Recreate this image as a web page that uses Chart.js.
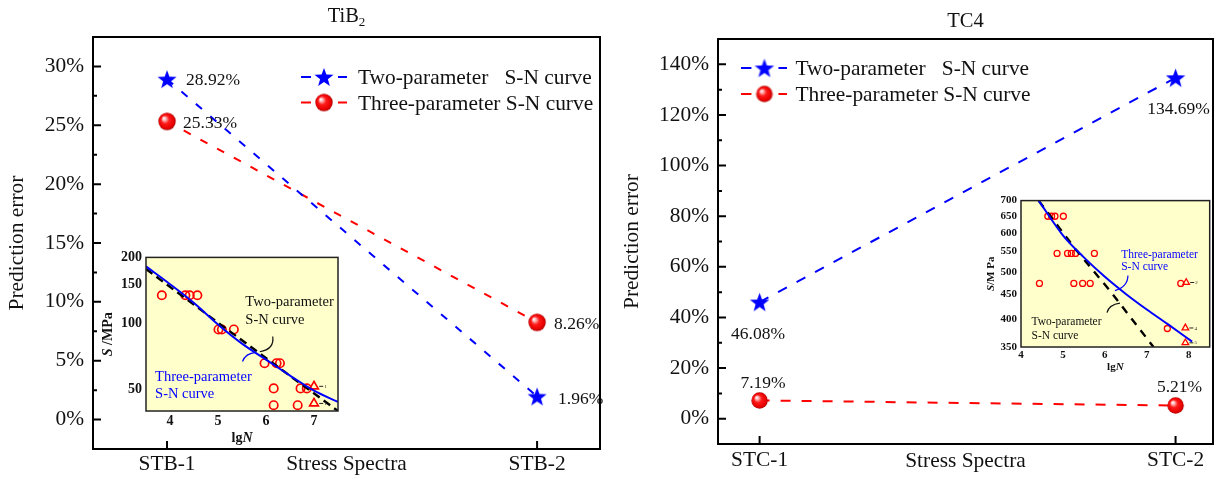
<!DOCTYPE html>
<html>
<head>
<meta charset="utf-8">
<script src="https://cdn.jsdelivr.net/npm/chart.js@4.4.0/dist/chart.umd.min.js"></script>
<style>
  html, body { margin: 0; padding: 0; background: #fff; }
  #wrap { position: relative; width: 1224px; height: 482px; overflow: hidden; background: #fff; }
  #wrap canvas { position: absolute; }
</style>
</head>
<body>
<div id="wrap">
  <canvas id="mainL" width="612" height="482" style="left:0;top:0"></canvas>
  <canvas id="mainR" width="612" height="482" style="left:612px;top:0"></canvas>
  <canvas id="insetL" width="250" height="200" style="left:95px;top:245px"></canvas>
  <canvas id="insetR" width="240" height="185" style="left:975px;top:190px"></canvas>
</div>
<script>
// ---- prediction error per stress spectrum (%) ----
const tibSpectra = ['STB-1', 'STB-2'];
const tibTwoParam = [28.92, 1.96];
const tibThreeParam = [25.33, 8.26];
const tibErrorTicks = [0, 5, 10, 15, 20, 25, 30];

const tc4Spectra = ['STC-1', 'STC-2'];
const tc4TwoParam = [46.08, 134.69];
const tc4ThreeParam = [7.19, 5.21];
const tc4ErrorTicks = [0, 20, 40, 60, 80, 100, 120, 140];

// ---- TiB2 S-N test data and fitted curves ----
const tibFailLgN = [3.83, 4.32, 4.41, 4.57, 5.01, 5.08, 5.33, 5.97, 6.22, 6.29, 6.16, 6.72, 6.85, 6.16, 6.66];
const tibFailS   = [134.5, 134.5, 134.5, 134.5, 94, 94, 94, 66, 66, 66, 50.7, 50.7, 50.7, 42.5, 42.5];
const tibRunoutLgN = [7.0, 7.0];
const tibRunoutS   = [51.8, 43.3];
const tibRunoutCount = ['1', '1'];
const tibTwoCurveLgN = [3.5, 5.0, 6.4, 7.5];
const tibTwoCurveS   = [177, 101, 60, 40];
const tibThreeCurveLgN = [3.5, 4.0, 4.5, 5.0, 5.5, 6.0, 6.5, 7.0, 7.5];
const tibThreeCurveS   = [182, 151, 124, 99, 81, 68.5, 58, 49.5, 44];
const tibLgNTicks = [4, 5, 6, 7];
const tibSTicks = [50, 100, 150, 200];

// ---- TC4 S-N test data and fitted curves ----
const tc4FailLgN = [4.64, 4.73, 4.81, 5.01, 4.86, 5.11, 5.20, 5.30, 5.75, 4.44, 5.26, 5.47, 5.65, 7.81, 7.49];
const tc4FailS   = [650, 650, 650, 650, 545, 545, 545, 545, 545, 473, 473, 473, 473, 473, 382];
const tc4RunoutLgN = [7.94, 7.92, 7.92];
const tc4RunoutS   = [475, 383, 357];
const tc4RunoutCount = ['2', '4', '5'];
const tc4TwoCurveLgN = [4.42, 5.3, 6.12, 7.16];
const tc4TwoCurveS   = [700, 556, 457, 350];
const tc4ThreeCurveLgN = [4.42, 5.0, 5.5, 6.0, 6.5, 7.0, 7.5, 8.08];
const tc4ThreeCurveS   = [700, 594, 535, 488, 450, 418, 390, 359];
const tc4LgNTicks = [4, 5, 6, 7, 8];
const tc4STicks = [350, 400, 450, 500, 550, 600, 650, 700];

const SERIF = "'Liberation Serif', 'Times New Roman', Times, serif";
const BLUE = '#0000ff';
const RED = '#ff0000';

function pairs(xs, ys) { return xs.map((x, i) => ({ x: x, y: ys[i] })); }

// filled five-pointed star marker
function makeStar(color, R, r) {
  const size = Math.ceil(R * 2) + 2;
  const c = document.createElement('canvas');
  c.width = c.height = size;
  const g = c.getContext('2d');
  g.translate(size / 2, size / 2 + R * 0.09);
  g.beginPath();
  for (let i = 0; i < 10; i++) {
    const rad = i % 2 ? r : R;
    const a = -Math.PI / 2 + i * Math.PI / 5;
    g.lineTo(rad * Math.cos(a), rad * Math.sin(a));
  }
  g.closePath();
  g.fillStyle = color;
  g.fill();
  return c;
}

// shaded red ball marker
function makeSphere(R) {
  const size = Math.ceil(R * 2) + 2;
  const c = document.createElement('canvas');
  c.width = c.height = size;
  const g = c.getContext('2d');
  const cx = size / 2, cy = size / 2;
  const grad = g.createRadialGradient(cx - R * 0.38, cy - R * 0.38, R * 0.04, cx, cy, R);
  grad.addColorStop(0, '#ffffff');
  grad.addColorStop(0.18, '#ffb0b0');
  grad.addColorStop(0.45, '#ff1a1a');
  grad.addColorStop(0.85, '#e80000');
  grad.addColorStop(1, '#a80000');
  g.beginPath();
  g.arc(cx, cy, R, 0, Math.PI * 2);
  g.fillStyle = grad;
  g.fill();
  return c;
}

// legend key: dash - marker - dash
function makeKey(color, marker) {
  const w = 46, h = 22;
  const c = document.createElement('canvas');
  c.width = w; c.height = h;
  const g = c.getContext('2d');
  g.strokeStyle = color;
  g.lineWidth = 2;
  g.beginPath();
  g.moveTo(0, h / 2); g.lineTo(10, h / 2);
  g.moveTo(37, h / 2); g.lineTo(46, h / 2);
  g.stroke();
  g.drawImage(marker, 23 - marker.width / 2, h / 2 - marker.height / 2);
  return c;
}

const starL = makeStar(BLUE, 10, 4.1);
const ballL = makeSphere(8.7);
const starR = makeStar(BLUE, 10.2, 4.2);
const ballR = makeSphere(8.2);

// ---------- plugins ----------
const framePlugin = {
  id: 'frame',
  afterDraw(chart, args, o) {
    const { ctx, chartArea: a, scales } = chart;
    ctx.save();
    ctx.strokeStyle = '#000';
    ctx.lineWidth = o.lineWidth;
    ctx.strokeRect(a.left, a.top, a.right - a.left, a.bottom - a.top);
    ctx.beginPath();
    const ys = scales.y;
    ys.ticks.forEach(t => {
      const y = ys.getPixelForValue(t.value);
      ctx.moveTo(a.left, y); ctx.lineTo(a.left + o.majorLen, y);
    });
    const majors = ys.ticks.map(t => t.value);
    for (let v = ys.min; v <= ys.max + 1e-9; v += o.minorStep) {
      if (majors.some(m => Math.abs(m - v) < 1e-6)) continue;
      const y = ys.getPixelForValue(v);
      if (y <= a.top + 1 || y >= a.bottom - 1) continue;
      ctx.moveTo(a.left, y); ctx.lineTo(a.left + o.minorLen, y);
    }
    const xs = scales.x;
    xs.ticks.forEach(t => {
      const x = xs.getPixelForValue(t.value);
      ctx.moveTo(x, a.bottom); ctx.lineTo(x, a.bottom - o.majorLen);
    });
    ctx.stroke();
    ctx.restore();
  }
};

const headingPlugin = {
  id: 'heading',
  afterDraw(chart, args, o) {
    const { ctx, chartArea: a } = chart;
    ctx.save();
    ctx.fillStyle = '#111';
    ctx.textBaseline = 'alphabetic';
    ctx.textAlign = 'left';
    let total = 0;
    const parts = o.parts.map(p => {
      ctx.font = p.size + 'px ' + SERIF;
      const w = ctx.measureText(p.text).width;
      total += w;
      return Object.assign({ w: w }, p);
    });
    let x = (a.left + a.right) / 2 - total / 2;
    parts.forEach(p => {
      ctx.font = p.size + 'px ' + SERIF;
      ctx.fillText(p.text, x, o.baseline + (p.dy || 0));
      x += p.w;
    });
    ctx.restore();
  }
};

const keyPlugin = {
  id: 'seriesKey',
  afterDraw(chart, args, o) {
    const { ctx, chartArea: a } = chart;
    ctx.save();
    ctx.font = o.size + 'px ' + SERIF;
    ctx.fillStyle = '#111';
    ctx.textAlign = 'left';
    ctx.textBaseline = 'alphabetic';
    chart.data.datasets.forEach((ds, i) => {
      const cy = a.top + o.top + i * o.rowGap;
      const x0 = a.left + o.left;
      const icon = ds.keyIcon;
      ctx.drawImage(icon, x0, cy - icon.height / 2);
      ctx.fillText(ds.label, x0 + o.textGap, cy + o.size * 0.33);
    });
    ctx.restore();
  }
};

const valuePlugin = {
  id: 'valueLabels',
  afterDatasetsDraw(chart, args, o) {
    const ctx = chart.ctx;
    ctx.save();
    ctx.font = o.size + 'px ' + SERIF;
    ctx.fillStyle = '#111';
    ctx.textBaseline = 'alphabetic';
    chart.data.datasets.forEach((ds, di) => {
      const meta = chart.getDatasetMeta(di);
      meta.data.forEach((pt, pi) => {
        const off = o.offsets[di][pi];
        ctx.textAlign = off.align;
        ctx.fillText(ds.data[pi].y.toFixed(2) + '%', pt.x + off.dx, pt.y + off.dy + o.size * 0.33);
      });
    });
    ctx.restore();
  }
};

function drawRich(ctx, parts, x, y, size) {
  let total = 0;
  parts.forEach(p => { ctx.font = p.style + ' ' + size + 'px ' + SERIF; p.w = ctx.measureText(p.text).width; total += p.w; });
  let cx = x - total / 2;
  parts.forEach(p => { ctx.font = p.style + ' ' + size + 'px ' + SERIF; ctx.fillText(p.text, cx, y); cx += p.w; });
}

const insetPlugin = {
  id: 'insetDeco',
  beforeDatasetsDraw(chart, args, o) {
    const { ctx, chartArea: a } = chart;
    ctx.save();
    ctx.fillStyle = o.fill;
    ctx.fillRect(a.left, a.top, a.right - a.left, a.bottom - a.top);
    ctx.restore();
  },
  afterDatasetsDraw(chart, args, o) {
    const { ctx, chartArea: a, scales } = chart;
    const X = v => scales.x.getPixelForValue(v);
    const Y = v => scales.y.getPixelForValue(v);
    ctx.save();
    // box
    ctx.strokeStyle = '#222';
    ctx.lineWidth = o.frameWidth;
    ctx.strokeRect(a.left, a.top, a.right - a.left, a.bottom - a.top);
    // axis titles
    ctx.fillStyle = '#111';
    ctx.textBaseline = 'alphabetic';
    ctx.textAlign = 'left';
    const cap = o.titleSize * 0.33;
    drawRich(ctx, [{ text: 'lg', style: 'bold' }, { text: 'N', style: 'italic bold' }],
      (a.left + a.right) / 2, a.bottom + o.xTitleGap + cap, o.titleSize);
    ctx.save();
    ctx.translate(a.left - o.yTitleGap, (a.top + a.bottom) / 2);
    ctx.rotate(-Math.PI / 2);
    drawRich(ctx, [{ text: 'S', style: 'italic bold' }, { text: o.yUnit, style: 'bold' }], 0, cap, o.titleSize);
    ctx.restore();
    // curve notes
    o.notes.forEach(n => {
      ctx.fillStyle = n.color;
      ctx.font = n.size + 'px ' + SERIF;
      ctx.textAlign = 'left';
      n.lines.forEach((line, i) => {
        ctx.fillText(line, X(n.x), Y(n.y) + i * n.lineGap + n.size * 0.33);
      });
    });
    // leader arcs
    o.leaders.forEach(l => {
      ctx.strokeStyle = l.color;
      ctx.lineWidth = 1.2;
      ctx.beginPath();
      ctx.moveTo(X(l.from[0]), Y(l.from[1]));
      ctx.quadraticCurveTo(X(l.ctrl[0]), Y(l.ctrl[1]), X(l.to[0]), Y(l.to[1]));
      ctx.stroke();
    });
    // run-out arrows with counts
    const ro = chart.getDatasetMeta(o.runoutDataset);
    ctx.strokeStyle = '#222';
    ctx.fillStyle = '#222';
    ctx.lineWidth = 1;
    ctx.font = o.countSize + 'px ' + SERIF;
    ctx.textAlign = 'left';
    ro.data.forEach((pt, i) => {
      ctx.beginPath();
      ctx.moveTo(pt.x + o.arrowFrom, pt.y);
      ctx.lineTo(pt.x + o.arrowTo, pt.y);
      ctx.stroke();
      ctx.fillText(o.counts[i], pt.x + o.arrowTo + 1, pt.y + o.countSize * 0.33);
    });
    ctx.restore();
  }
};

// ---------- main charts ----------
function mainChart(id, cfg) {
  const font = { family: SERIF, size: 21.4 };
  return new Chart(document.getElementById(id), {
    type: 'line',
    data: {
      datasets: [
        {
          label: 'Two-parameter   S-N curve',
          data: cfg.two.map((v, i) => ({ x: i + 1, y: v })),
          borderColor: BLUE, borderWidth: 2, borderDash: cfg.dash,
          pointStyle: cfg.star, pointRadius: 9, fill: false,
          keyIcon: makeKey(BLUE, cfg.star)
        },
        {
          label: 'Three-parameter S-N curve',
          data: cfg.three.map((v, i) => ({ x: i + 1, y: v })),
          borderColor: RED, borderWidth: 2, borderDash: cfg.dash,
          pointStyle: cfg.ball, pointRadius: 9, fill: false,
          keyIcon: makeKey(RED, cfg.ball)
        }
      ]
    },
    options: {
      responsive: false, animation: false, devicePixelRatio: 1,
      layout: { padding: { top: cfg.top, right: cfg.right, left: 0, bottom: 0 } },
      plugins: {
        legend: { display: false }, tooltip: { enabled: false },
        frame: { lineWidth: 2, majorLen: 8, minorLen: 4, minorStep: cfg.minorStep },
        heading: cfg.heading,
        seriesKey: cfg.key,
        valueLabels: { size: 17.5, offsets: cfg.labelOffsets }
      },
      scales: {
        x: {
          type: 'linear', min: cfg.xMin, max: cfg.xMax,
          afterBuildTicks: s => { s.ticks = cfg.cats.map((c, i) => ({ value: i + 1 })); },
          ticks: { callback: v => cfg.cats[v - 1], font: font, color: '#111', padding: cfg.xTickPad, maxRotation: 0 },
          grid: { display: false, drawTicks: false }, border: { display: false },
          title: { display: true, text: 'Stress Spectra', font: font, color: '#111', padding: { top: 0, bottom: cfg.xTitlePad } },
          afterFit: s => { s.height = cfg.xHeight; }
        },
        y: {
          min: cfg.yMin, max: cfg.yMax,
          afterBuildTicks: s => { s.ticks = cfg.yTicks.map(v => ({ value: v })); },
          ticks: { callback: v => v + '%', font: font, color: '#111', padding: 9 },
          grid: { display: false, drawTicks: false }, border: { display: false },
          title: { display: true, text: 'Prediction error', font: font, color: '#111', padding: { top: cfg.yTitlePad, bottom: 0 } },
          afterFit: s => { s.width = cfg.yWidth; }
        }
      }
    },
    plugins: [framePlugin, headingPlugin, keyPlugin, valuePlugin]
  });
}

mainChart('mainL', {
  cats: tibSpectra, two: tibTwoParam, three: tibThreeParam, yTicks: tibErrorTicks,
  star: starL, ball: ballL, dash: [8, 11],
  top: 37, right: 12, yWidth: 93, xHeight: 33,
  xMin: 0.8, xMax: 2.17, yMin: -2.5, yMax: 32.5, minorStep: 2.5,
  xTickPad: 2.3, xTitlePad: 4.5, yTitlePad: 5,
  heading: { baseline: 21.5, parts: [{ text: 'TiB', size: 20.5 }, { text: '2', size: 13, dy: 4.5 }] },
  key: { left: 208, top: 40, rowGap: 25.5, textGap: 57, size: 21.4 },
  labelOffsets: [
    [{ dx: 19, dy: 0.5, align: 'left' }, { dx: 21, dy: 1.7, align: 'left' }],
    [{ dx: 16, dy: 0.9, align: 'left' }, { dx: 17, dy: 0.5, align: 'left' }]
  ]
});

mainChart('mainR', {
  cats: tc4Spectra, two: tc4TwoParam, three: tc4ThreeParam, yTicks: tc4ErrorTicks,
  star: starR, ball: ballR, dash: [10, 11],
  top: 39, right: 2, yWidth: 106, xHeight: 38,
  xMin: 0.9, xMax: 2.09, yMin: -10, yMax: 150, minorStep: 10,
  xTickPad: 4, xTitlePad: 7.4, yTitlePad: 8,
  heading: { baseline: 27, parts: [{ text: 'TC4', size: 20.5 }] },
  key: { left: 23.4, top: 29, rowGap: 26, textGap: 54, size: 21.4 },
  labelOffsets: [
    [{ dx: -1.6, dy: 31, align: 'center' }, { dx: 3, dy: 30, align: 'center' }],
    [{ dx: 3.5, dy: -18, align: 'center' }, { dx: 4, dy: -19, align: 'center' }]
  ]
});

// ---------- S-N insets ----------
function insetChart(id, cfg) {
  const tickFont = { family: SERIF, size: cfg.tickSize, weight: 'bold' };
  return new Chart(document.getElementById(id), {
    type: 'line',
    data: {
      datasets: [
        { data: pairs(cfg.threeLgN, cfg.threeS), borderColor: BLUE, borderWidth: 2, pointRadius: 0,
          cubicInterpolationMode: 'monotone', fill: false, order: 0 },
        { data: pairs(cfg.twoLgN, cfg.twoS), borderColor: '#000', borderWidth: 2.4, borderDash: cfg.dash,
          pointRadius: 0, fill: false, order: 1 },
        { data: pairs(cfg.failLgN, cfg.failS), showLine: false, pointStyle: 'circle', pointRadius: cfg.markR,
          pointBorderColor: RED, pointBackgroundColor: 'rgba(0,0,0,0)', pointBorderWidth: cfg.markW, order: 2 },
        { data: pairs(cfg.runLgN, cfg.runS), showLine: false, pointStyle: 'triangle', pointRadius: cfg.markR + 0.8,
          pointBorderColor: RED, pointBackgroundColor: 'rgba(0,0,0,0)', pointBorderWidth: cfg.markW, order: 2 }
      ]
    },
    options: {
      responsive: false, animation: false, devicePixelRatio: 1,
      layout: { padding: { top: cfg.top, right: cfg.right, left: 0, bottom: 0 } },
      plugins: {
        legend: { display: false }, tooltip: { enabled: false },
        insetDeco: {
          fill: '#ffffcc', frameWidth: 1.5, titleSize: cfg.titleSize, yUnit: cfg.yUnit,
          xTitleGap: cfg.xTitleGap, yTitleGap: cfg.yTitleGap,
          notes: cfg.notes, leaders: cfg.leaders,
          runoutDataset: 3, counts: cfg.counts, arrowFrom: cfg.markR + 1, arrowTo: cfg.markR + 5, countSize: 5
        }
      },
      scales: {
        x: {
          type: 'linear', min: cfg.xMin, max: cfg.xMax,
          afterBuildTicks: s => { s.ticks = cfg.xTicks.map(v => ({ value: v })); },
          ticks: { font: tickFont, color: '#111', padding: cfg.xTickPad, maxRotation: 0 },
          grid: { display: false, drawTicks: false }, border: { display: false },
          afterFit: s => { s.height = cfg.xHeight; }
        },
        y: {
          type: 'logarithmic', min: cfg.yMin, max: cfg.yMax,
          afterBuildTicks: s => { s.ticks = cfg.yTicks.map(v => ({ value: v })); },
          ticks: { callback: v => String(v), font: tickFont, color: '#111', padding: 4 },
          grid: { display: false, drawTicks: false }, border: { display: false },
          afterFit: s => { s.width = cfg.yWidth; }
        }
      }
    },
    plugins: [insetPlugin]
  });
}

insetChart('insetL', {
  failLgN: tibFailLgN, failS: tibFailS, runLgN: tibRunoutLgN, runS: tibRunoutS, counts: tibRunoutCount,
  twoLgN: tibTwoCurveLgN, twoS: tibTwoCurveS, threeLgN: tibThreeCurveLgN, threeS: tibThreeCurveS,
  xTicks: tibLgNTicks, yTicks: tibSTicks, xMin: 3.5, xMax: 7.5, yMin: 40, yMax: 200,
  top: 8, right: 7, yWidth: 51, xHeight: 34, tickSize: 14, titleSize: 14, yUnit: ' /MPa',
  xTickPad: 2.3, xTitleGap: 26, yTitleGap: 39, markR: 4.2, markW: 1.7, dash: [8, 5],
  notes: [
    { lines: ['Two-parameter', 'S-N curve'], x: 5.57, y: 126, lineGap: 17.7, size: 14.5, color: '#111' },
    { lines: ['Three-parameter', 'S-N curve'], x: 3.69, y: 57.7, lineGap: 16.7, size: 14.5, color: BLUE }
  ],
  leaders: [
    { from: [6.14, 87.3], ctrl: [6.18, 76.5], to: [5.87, 74.4], color: '#111' },
    { from: [5.51, 67.2], ctrl: [5.57, 73.3], to: [5.79, 74], color: BLUE }
  ]
});

insetChart('insetR', {
  failLgN: tc4FailLgN, failS: tc4FailS, runLgN: tc4RunoutLgN, runS: tc4RunoutS, counts: tc4RunoutCount,
  twoLgN: tc4TwoCurveLgN, twoS: tc4TwoCurveS, threeLgN: tc4ThreeCurveLgN, threeS: tc4ThreeCurveS,
  xTicks: tc4LgNTicks, yTicks: tc4STicks, xMin: 4, xMax: 8.5, yMin: 350, yMax: 700,
  top: 8, right: 1.8, yWidth: 46, xHeight: 28, tickSize: 11, titleSize: 11, yUnit: '/M Pa',
  xTickPad: 1.4, xTitleGap: 19.7, yTitleGap: 31, markR: 3, markW: 1.3, dash: [8, 7],
  notes: [
    { lines: ['Three-parameter', 'S-N curve'], x: 6.39, y: 544, lineGap: 12.3, size: 11.5, color: BLUE },
    { lines: ['Two-parameter', 'S-N curve'], x: 4.25, y: 396, lineGap: 14, size: 11.5, color: '#111' }
  ],
  leaders: [
    { from: [6.55, 491], ctrl: [6.55, 466], to: [6.24, 457], color: BLUE },
    { from: [6.05, 412], ctrl: [6.1, 428], to: [6.36, 431], color: '#111' }
  ]
});
</script>
</body>
</html>
